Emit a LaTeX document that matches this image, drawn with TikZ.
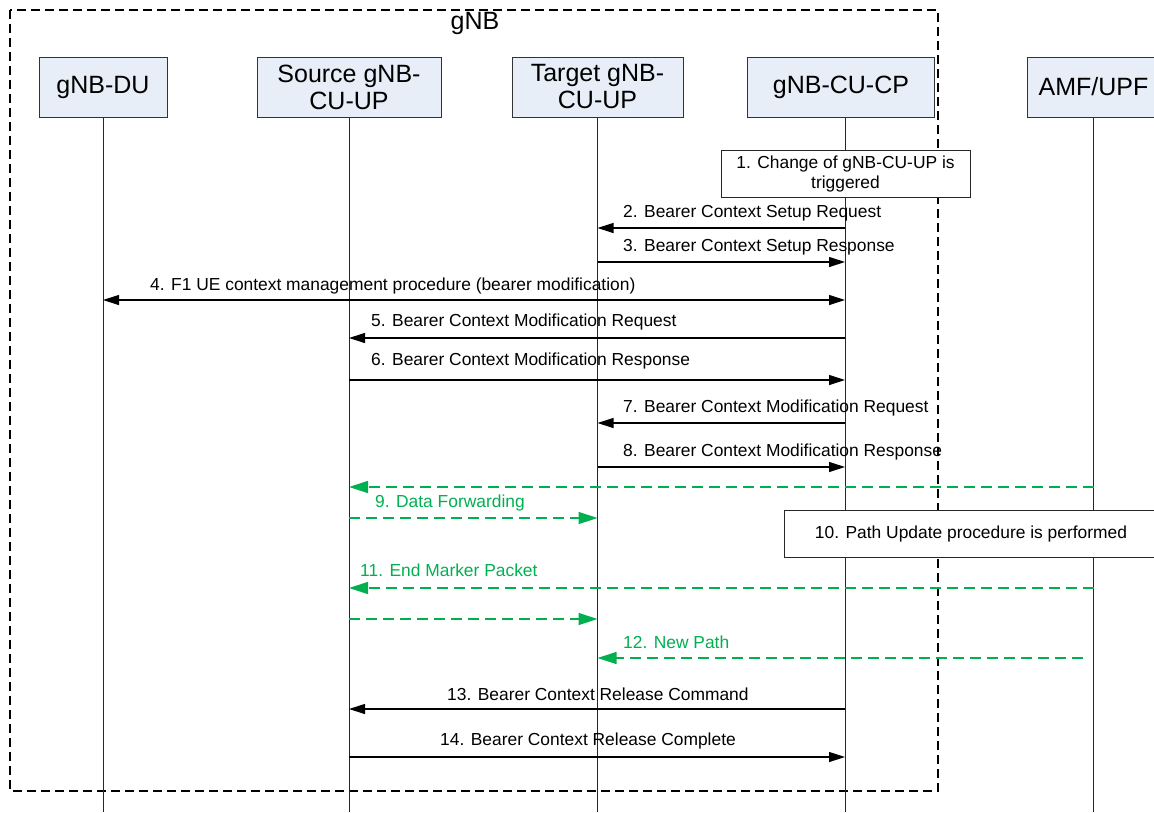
\documentclass[tikz,border=0pt]{standalone}
\usepackage{fontspec}
\setmainfont{Liberation Sans}
\usetikzlibrary{arrows.meta,calc}
\definecolor{hdrfill}{RGB}{232,238,247}
\definecolor{fwdgreen}{RGB}{0,176,80}
\begin{document}
\begin{tikzpicture}[x=1pt,y=-1pt,
  actor/.style={draw=black!80,line width=1pt,fill=hdrfill,minimum height=60pt,align=center,font=\fontsize{25}{27}\selectfont,inner sep=0pt},
  life/.style={draw=black!85,line width=1pt},
  msg/.style={draw=black,line width=1.1pt,-{Triangle[length=16pt,width=10pt]}},
  bimsg/.style={draw=black,line width=1.1pt,{Triangle[length=16pt,width=10pt]}-{Triangle[length=16pt,width=10pt]}},
  fwd/.style={draw=fwdgreen,line width=1.4pt,dash pattern=on 11pt off 6pt,-{Triangle[length=19pt,width=12pt]}},
  lbl/.style={anchor=west,inner sep=0pt,font=\fontsize{17.4}{20}\selectfont},
  glbl/.style={lbl,text=fwdgreen},
  note/.style={draw=black!85,line width=1pt,fill=white,align=center,font=\fontsize{17.4}{20}\selectfont,inner sep=0pt},
  frame/.style={draw=black,line width=1.2pt,dash pattern=on 9pt off 5pt}
]
\useasboundingbox (0,0) rectangle (1154,812);
% gNB frame
\draw[frame] (10,10) rectangle (938,791);
\node[font=\fontsize{25}{27}\selectfont,inner sep=0pt] (gnblbl) at (475,23) {gNB};
% actors
\node[actor,minimum width=128pt] (du) at (103,87) {gNB-DU};
\node[actor,minimum width=184pt] (src) at (349,87) {Source gNB-\\CU-UP};
\node[actor,minimum width=171pt] (tg) at (597.5,87) {Target gNB-\\CU-UP};
\node[actor,minimum width=187pt] (cp) at (841,87) {gNB-CU-CP};
\node[actor,minimum width=133pt] (amf) at (1093.5,87) {AMF/UPF};
% lifelines
\coordinate (Ldu) at (du.south);
\coordinate (Lsrc) at (src.south);
\coordinate (Ltg) at (tg.south);
\coordinate (Lcp) at ([xshift=4pt]cp.south);
\coordinate (Lamf) at (amf.south);
\foreach \c in {Ldu,Lsrc,Ltg,Lcp,Lamf}
  \draw[life] (\c) -- (\c |- 0,812);
% notes
\node[note,minimum width=249pt,minimum height=47pt] (n1) at (845.5,173.5) {1. Change of gNB-CU-UP is\\triggered};
\node[note,minimum width=374pt,minimum height=47pt] (n10) at (971,533.5) {10. Path Update procedure is performed};
% messages
\draw[msg] (Lcp |- 0,228) -- (Ltg |- 0,228);
\node[lbl] (l2) at (623,213) {2. Bearer Context Setup Request};
\draw[msg] (Ltg |- 0,262) -- (Lcp |- 0,262);
\node[lbl] (l3) at (623,247) {3. Bearer Context Setup Response};
\draw[bimsg] (Ldu |- 0,300) -- (Lcp |- 0,300);
\node[lbl] (l4) at (150,286) {4. F1 UE context management procedure (bearer modification)};
\draw[msg] (Lcp |- 0,338) -- (Lsrc |- 0,338);
\node[lbl] (l5) at (371,322) {5. Bearer Context Modification Request};
\draw[msg] (Lsrc |- 0,380) -- (Lcp |- 0,380);
\node[lbl] (l6) at (371,361) {6. Bearer Context Modification Response};
\draw[msg] (Lcp |- 0,423) -- (Ltg |- 0,423);
\node[lbl] (l7) at (623,408) {7. Bearer Context Modification Request};
\draw[msg] (Ltg |- 0,467) -- (Lcp |- 0,467);
\node[lbl] (l8) at (623,452) {8. Bearer Context Modification Response};
% forwarding
\draw[fwd] (Lamf |- 0,487) -- (Lsrc |- 0,487);
\draw[fwd] (Lsrc |- 0,518) -- (Ltg |- 0,518);
\node[glbl] (l9) at (375,503) {9. Data Forwarding};
\draw[fwd] (Lamf |- 0,588) -- (Lsrc |- 0,588);
\node[glbl] (l11) at (360,570) {11. End Marker Packet};
\draw[fwd] (Lsrc |- 0,619) -- (Ltg |- 0,619);
\draw[fwd] ($(Lamf |- 0,658)+(-11,0)$) -- (Ltg |- 0,658);
\node[glbl] (l12) at (623,642) {12. New Path};
% release
\draw[msg] (Lcp |- 0,709) -- (Lsrc |- 0,709);
\node[lbl] (l13) at (447,694) {13. Bearer Context Release Command};
\draw[msg] (Lsrc |- 0,757) -- (Lcp |- 0,757);
\node[lbl] (l14) at (440,741) {14. Bearer Context Release Complete};
\end{tikzpicture}
\end{document}
